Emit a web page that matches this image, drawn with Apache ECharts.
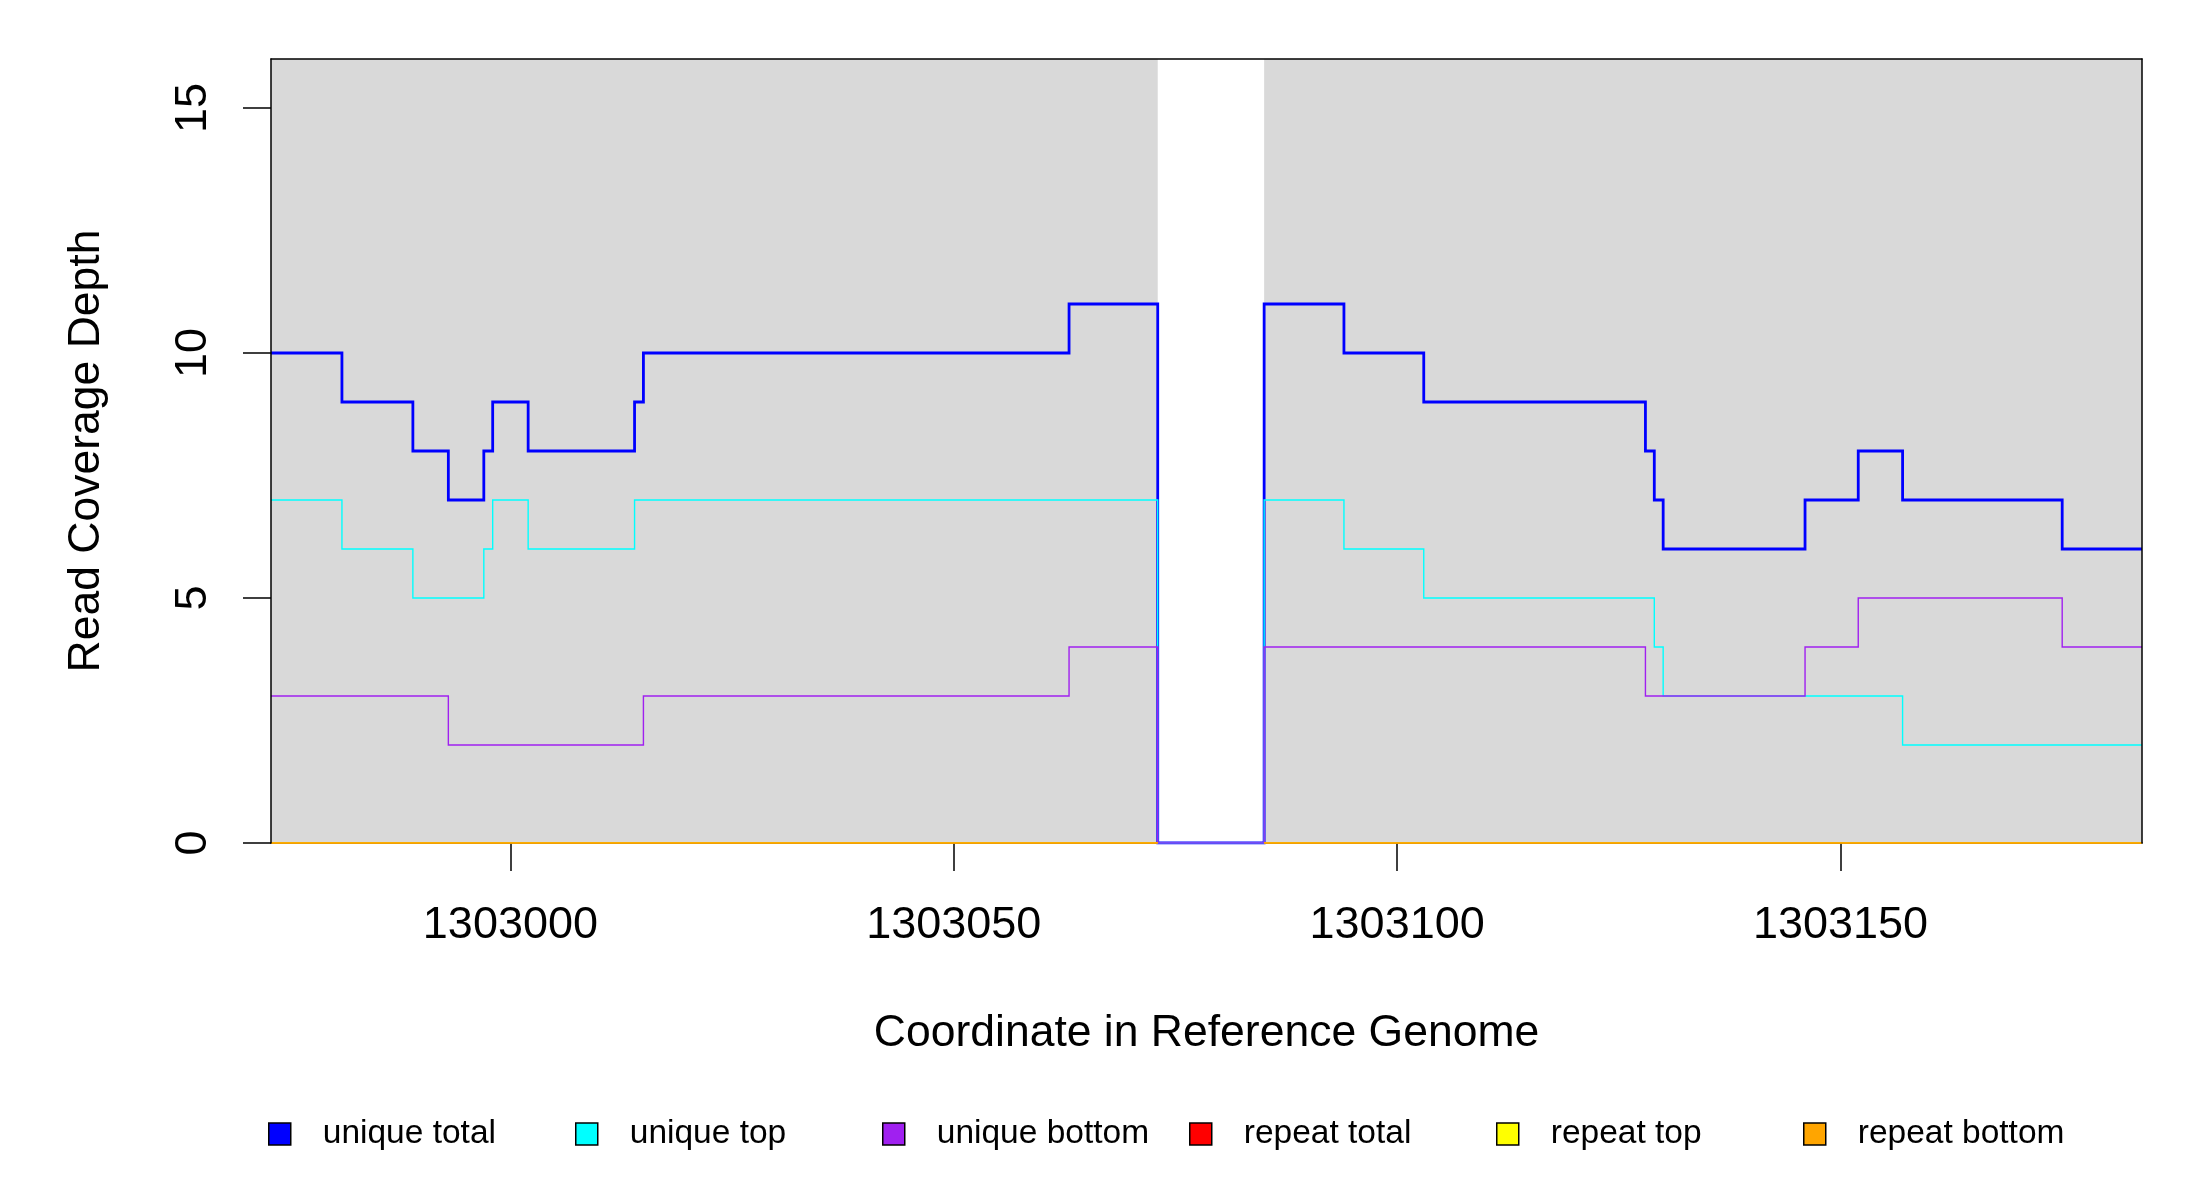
<!DOCTYPE html>
<html>
<head>
<meta charset="utf-8">
<script src="https://cdn.jsdelivr.net/npm/echarts@6/dist/echarts.min.js"></script>
<style>
html, body { margin: 0; padding: 0; background: #fff; }
#main { width: 2200px; height: 1200px; }
</style>
</head>
<body>
<div id="main"></div>
<script>
// x range of the window and the uncovered gap
var xStart = 1302973, xEnd = 1303184;
var gapStart = 1303073, gapEnd = 1303085;
var xTicks = [1303000, 1303050, 1303100, 1303150];
var yTicks = [0, 5, 10, 15];

// each series: x where a step begins, and the depth from there on
var totalX = [1302973, 1302981, 1302989, 1302993, 1302997, 1302998, 1303002, 1303014, 1303015, 1303063, 1303073,
	1303085, 1303094, 1303103, 1303128, 1303129, 1303130, 1303146, 1303152, 1303157, 1303175];
var totalY = [10, 9, 8, 7, 8, 9, 8, 9, 10, 11, 0,
	11, 10, 9, 8, 7, 6, 7, 8, 7, 6];

var topX = [1302973, 1302981, 1302989, 1302997, 1302998, 1303002, 1303014, 1303073,
	1303085, 1303094, 1303103, 1303129, 1303130, 1303157];
var topY = [7, 6, 5, 6, 7, 6, 7, 0,
	7, 6, 5, 4, 3, 2];

var bottomX = [1302973, 1302993, 1303015, 1303063, 1303073, 1303085, 1303128, 1303146, 1303152, 1303175];
var bottomY = [3, 2, 3, 4, 0, 4, 3, 4, 5, 4];

// repeats are zero where there is coverage, nothing in the gap
var repeatX = [1302973, 1303073, 1303085];
var repeatTotalY = [0, null, 0];
var repeatTopY = [0, null, 0];
var repeatBottomY = [0, null, 0];

var names = ['unique total', 'unique top', 'unique bottom', 'repeat total', 'repeat top', 'repeat bottom'];
var colors = ['#0000ff', '#00ffff', '#a020f0', '#ff0000', '#ffff00', '#ffa500'];

var FONT = '"Liberation Sans", Arial, sans-serif';

// turn step starts into points for a step:'end' line
function stepData(xs, ys) {
	var d = [];
	for (var i = 0; i < xs.length; i++) {
		if (ys[i] == null && i > 0) d.push([xs[i], ys[i - 1]]);
		d.push([xs[i], ys[i]]);
	}
	d.push([xEnd, ys[ys.length - 1]]);
	return d;
}

function lineSeries(idx, xs, ys, width) {
	return {
		name: names[idx],
		type: 'line',
		step: 'end',
		z: 3,
		symbol: 'none',
		connectNulls: false,
		data: stepData(xs, ys),
		itemStyle: { color: colors[idx] },
		lineStyle: { color: colors[idx], width: width, cap: 'butt', join: 'miter' }
	};
}

var legends = [];
for (var i = 0; i < names.length; i++) {
	legends.push({
		data: [names[i]],
		left: 268 + 307 * i,
		top: 1117,
		padding: 0,
		icon: 'rect',
		itemWidth: 22,
		itemHeight: 22,
		itemStyle: { borderColor: '#000', borderWidth: 1.5 },
		textStyle: { fontFamily: FONT, fontSize: 33.5, color: '#000', padding: [0, 0, 0, 27] },
		selectedMode: false
	});
}

var chart = echarts.init(document.getElementById('main'), null, { renderer: 'canvas' });
var option = {
	animation: false,
	backgroundColor: '#fff',
	textStyle: { fontFamily: FONT },
	grid: {
		left: 271, right: 58, top: 59, bottom: 357,
		show: true, backgroundColor: '#d9d9d9', borderWidth: 0,
		outerBoundsMode: 'none'
	},
	legend: legends,
	xAxis: [{
		type: 'value',
		min: xStart, max: xEnd,
		position: 'bottom',
		splitLine: { show: false },
		axisLine: { show: true, onZero: false, lineStyle: { color: '#000', width: 1.5 } },
		axisTick: { show: true, length: 28, lineStyle: { color: '#000', width: 1.5 }, customValues: xTicks },
		axisLabel: {
			customValues: xTicks, margin: 60, fontSize: 45, color: '#000', fontFamily: FONT,
			formatter: function (v) { return String(v); }
		},
		name: 'Coordinate in Reference Genome',
		nameLocation: 'middle',
		nameGap: 168,
		nameTextStyle: { fontSize: 44.5, color: '#000', fontFamily: FONT }
	}, {
		type: 'value',
		min: xStart, max: xEnd,
		position: 'top',
		z: 10,
		splitLine: { show: false },
		axisLine: { show: true, onZero: false, lineStyle: { color: '#000', width: 1.5 } },
		axisTick: { show: false },
		axisLabel: { show: false }
	}],
	yAxis: [{
		type: 'value',
		min: 0, max: 16,
		position: 'left',
		z: 10,
		splitLine: { show: false },
		axisLine: { show: true, onZero: false, lineStyle: { color: '#000', width: 1.5 } },
		axisTick: { show: true, length: 28, lineStyle: { color: '#000', width: 1.5 }, customValues: yTicks },
		axisLabel: { customValues: yTicks, rotate: 90, margin: 55, fontSize: 45, color: '#000', fontFamily: FONT },
		name: 'Read Coverage Depth',
		nameLocation: 'middle',
		nameRotate: 90,
		nameGap: 162,
		nameTextStyle: { fontSize: 44.5, color: '#000', fontFamily: FONT }
	}, {
		type: 'value',
		min: 0, max: 16,
		position: 'right',
		z: 10,
		splitLine: { show: false },
		axisLine: { show: true, onZero: false, lineStyle: { color: '#000', width: 1.5 } },
		axisTick: { show: false },
		axisLabel: { show: false }
	}],
	series: [
		{
			// white where nothing maps
			type: 'line',
			z: 1,
			data: [],
			silent: true,
			markArea: {
				silent: true,
				itemStyle: { color: '#ffffff' },
				data: [[{ xAxis: gapStart, yAxis: 0 }, { xAxis: gapEnd, yAxis: 16 }]]
			}
		},
		lineSeries(0, totalX, totalY, 2.8),
		lineSeries(1, topX, topY, 1.4),
		lineSeries(2, bottomX, bottomY, 1.4),
		lineSeries(3, repeatX, repeatTotalY, 1.4),
		lineSeries(4, repeatX, repeatTopY, 1.4),
		lineSeries(5, repeatX, repeatBottomY, 1.4)
	]
};
chart.setOption(option);
</script>
</body>
</html>
